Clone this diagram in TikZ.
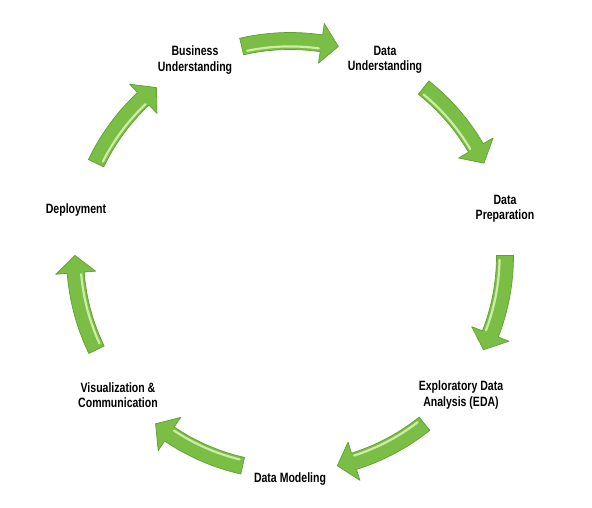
\documentclass[tikz,border=0pt]{standalone}
\usepackage{fontspec}
\setmainfont[FakeStretch=0.78]{Liberation Sans}
\definecolor{arrowfill}{RGB}{122,190,70}
\definecolor{arrowedge}{RGB}{96,160,50}
\definecolor{arrowlight}{RGB}{206,236,168}
\tikzset{
  lbl/.style={inner sep=0pt, align=center, text=black,
    font=\fontsize{13.5}{15.5}\selectfont\bfseries},
  arrowbody/.style={fill=arrowfill, draw=arrowedge, line width=0.7pt, line join=round},
  arrowshine/.style={draw=arrowlight, line width=2.2pt, line cap=round}
}
\begin{document}
\begin{tikzpicture}[x=1pt,y=1pt]
\useasboundingbox (0,0) rectangle (592,507);
\coordinate (C) at (290,251);
\foreach \k in {0,...,6} {
  \pgfmathsetmacro\cc{90-\k*360/7}
  \pgfmathsetmacro\aa{\cc+13}
  \pgfmathsetmacro\ab{\cc-13}
  \pgfmathsetmacro\ah{\ab+4.6}
  \pgfmathsetmacro\as{\aa-1.2}
  \pgfmathsetmacro\ae{\ah+0.5}
  \begin{scope}[shift={(C)}]
    \filldraw[arrowbody] (\aa:223.5) arc[start angle=\aa, end angle=\ah, radius=223.5]
      -- (\ah:235) -- (\ab:215) -- (\ah:195) -- (\ah:206.5)
      arc[start angle=\ah, end angle=\aa, radius=206.5] -- cycle;
    \draw[arrowshine] (\as:209.6) arc[start angle=\as, end angle=\ae, radius=209.6];
  \end{scope}
}
\node[lbl] (bu)  at (195,447) {Business\\Understanding};
\node[lbl] (du)  at (385,447) {Data\\Understanding};
\node[lbl] (dp)  at (505,298) {Data\\Preparation};
\node[lbl] (eda) at (461,112) {Exploratory Data\\Analysis (EDA)};
\node[lbl] (dm)  at (290,28)  {Data Modeling};
\node[lbl] (vc)  at (118,112) {Visualization \&\\Communication};
\node[lbl] (dep) at (76,297)  {Deployment};
\end{tikzpicture}
\end{document}
